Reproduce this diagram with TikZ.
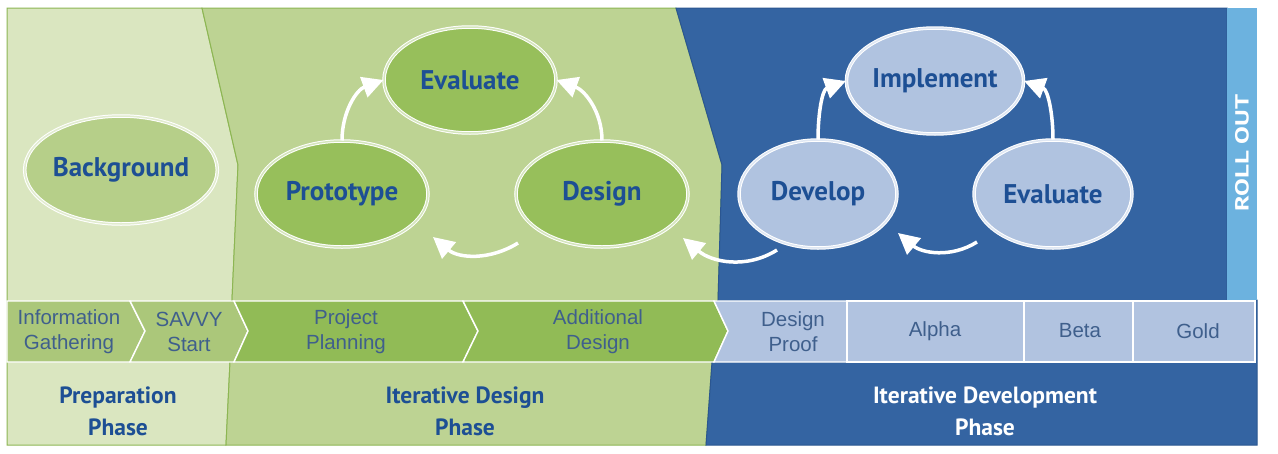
\documentclass[tikz,border=0pt]{standalone}
\usepackage{fontspec}
\setmainfont{PT Sans}
\newfontfamily\chevfont{Liberation Sans}
\usetikzlibrary{arrows.meta,shapes.geometric}
\definecolor{prepbg}{HTML}{DAE6C0}
\definecolor{desbg}{HTML}{BDD393}
\definecolor{greenline}{HTML}{8DB653}
\definecolor{devbg}{HTML}{3464A2}
\definecolor{devline}{HTML}{2B5690}
\definecolor{rollbg}{HTML}{6CB2DF}
\definecolor{chevprep}{HTML}{ABC77A}
\definecolor{chevdes}{HTML}{91BB56}
\definecolor{chevdev}{HTML}{B1C3E0}
\definecolor{ellprep}{HTML}{B6CF89}
\definecolor{elldes}{HTML}{97BF5B}
\definecolor{elldev}{HTML}{B0C3E0}
\definecolor{titleblue}{HTML}{1D4F94}
\definecolor{chevtext}{HTML}{3F5F8C}
\begin{document}
\begin{tikzpicture}[x=1pt,y=1pt,
  phase/.style={ellipse, inner sep=0pt, draw=white, line width=1pt,
    double=#1!40!white, double distance=1.5pt, fill=#1,
    font=\fontsize{27}{30}\selectfont\bfseries, text=titleblue},
  chev/.style={draw=white, line width=1.4pt, fill=#1},
  chevtxt/.style={align=center, text=chevtext, inner sep=0pt,
    font=\chevfont\fontsize{20.5}{25}\selectfont},
  phasetxt/.style={align=center, inner sep=0pt,
    font=\fontsize{23.5}{32}\selectfont\bfseries},
  arr/.style={draw=white, line width=3.5pt,
    -{Triangle[length=21pt,width=21pt]}}
]
\useasboundingbox (0,0) rectangle (1278,-453);
\fill[white] (0,0) rectangle (1278,-453);

% phase backgrounds
\filldraw[fill=prepbg, draw=greenline, line width=1pt]
  (7,-8) -- (202,-8) -- (238,-165) -- (232,-300) -- (230,-362) -- (226,-445) -- (7,-445) -- cycle;
\filldraw[fill=desbg, draw=greenline, line width=1pt]
  (202,-8) -- (676,-8) -- (722,-165) -- (718,-300) -- (712,-362) -- (706,-445)
  -- (226,-445) -- (230,-362) -- (232,-300) -- (238,-165) -- cycle;
\filldraw[fill=devbg, draw=devline, line width=1pt]
  (676,-8) -- (1227,-8) -- (1227,-300) -- (1257,-300) -- (1257,-445)
  -- (706,-445) -- (712,-362) -- (718,-300) -- (722,-165) -- cycle;
\fill[rollbg] (1227,-8) rectangle (1257,-300);
\node[rotate=90, text=white, inner sep=0pt,
  font=\fontsize{19}{20}\selectfont\bfseries] (roll) at (1242,-153)
  {\scalebox{1.4}[1]{ROLL OUT}};

% chevron band
\filldraw[chev=chevprep] (7,-301) -- (130,-301) -- (145,-331) -- (130,-362) -- (7,-362) -- cycle;
\filldraw[chev=chevprep] (130,-301) -- (234,-301) -- (248,-331) -- (234,-362) -- (130,-362) -- (145,-331) -- cycle;
\filldraw[chev=chevdes] (234,-301) -- (463,-301) -- (478,-331) -- (463,-362) -- (234,-362) -- (248,-331) -- cycle;
\filldraw[chev=chevdes] (463,-301) -- (714,-301) -- (728,-331) -- (714,-362) -- (463,-362) -- (478,-331) -- cycle;
\filldraw[chev=chevdev] (714,-301) -- (847,-301) -- (847,-362) -- (714,-362) -- (728,-331) -- cycle;
\filldraw[chev=chevdev] (847,-301) rectangle (1024,-362);
\filldraw[chev=chevdev] (1024,-301) rectangle (1133,-362);
\filldraw[chev=chevdev] (1133,-301) rectangle (1255,-362);

\node[chevtxt] (info) at (69,-332) {Information\\Gathering};
\node[chevtxt] (savvy) at (189,-332) {SAVVY\\Start};
\node[chevtxt] (plan) at (346,-332) {Project\\Planning};
\node[chevtxt] (adddes) at (598,-332) {Additional\\Design};
\node[chevtxt] (proof) at (793,-332) {Design\\Proof};
\node[chevtxt] (alpha) at (935,-331) {Alpha};
\node[chevtxt] (beta) at (1080,-331) {Beta};
\node[chevtxt] (gold) at (1198,-331) {Gold};

% phase titles
\node[phasetxt, text=titleblue] (prep) at (118,-411) {Preparation\\Phase};
\node[phasetxt, text=titleblue] (itdes) at (465,-411) {Iterative Design\\Phase};
\node[phasetxt, text=white] (itdev) at (985,-411) {Iterative Development\\Phase};

% ellipses
\node[phase=ellprep, minimum width=174pt, minimum height=108pt] (bg) at (121,-170) {Background};
\node[phase=elldes, minimum width=172pt, minimum height=106pt] (proto) at (342,-194) {Prototype};
\node[phase=elldes, minimum width=172pt, minimum height=106pt] (evalg) at (470,-80) {Evaluate};
\node[phase=elldes, minimum width=172pt, minimum height=106pt] (design) at (602,-194) {Design};
\node[phase=elldev, minimum width=158pt, minimum height=106pt] (impl) at (935,-81) {Implement};
\node[phase=elldev, minimum width=158pt, minimum height=108pt] (dev) at (818,-194) {Develop};
\node[phase=elldev, minimum width=158pt, minimum height=108pt] (evalb) at (1053,-194) {Evaluate};

% arrows
\draw[arr] (proto.north) to[out=90,in=200] (evalg.west);
\draw[arr] (design.north) to[out=90,in=-20] (evalg.east);
\draw[arr] ([shift={(-84,-49)}]design.center) to[out=212,in=-40] ([shift={(91,-43)}]proto.center);
\draw[arr] (dev.north) to[out=90,in=200] (impl.west);
\draw[arr] (evalb.north) to[out=90,in=-20] (impl.east);
\draw[arr] ([shift={(-76,-48)}]evalb.center) to[out=212,in=-40] ([shift={(80,-39)}]dev.center);
\draw[arr] ([shift={(-41,-56)}]dev.center) to[out=212,in=-40] ([shift={(81,-44)}]design.center);
\end{tikzpicture}
\end{document}
